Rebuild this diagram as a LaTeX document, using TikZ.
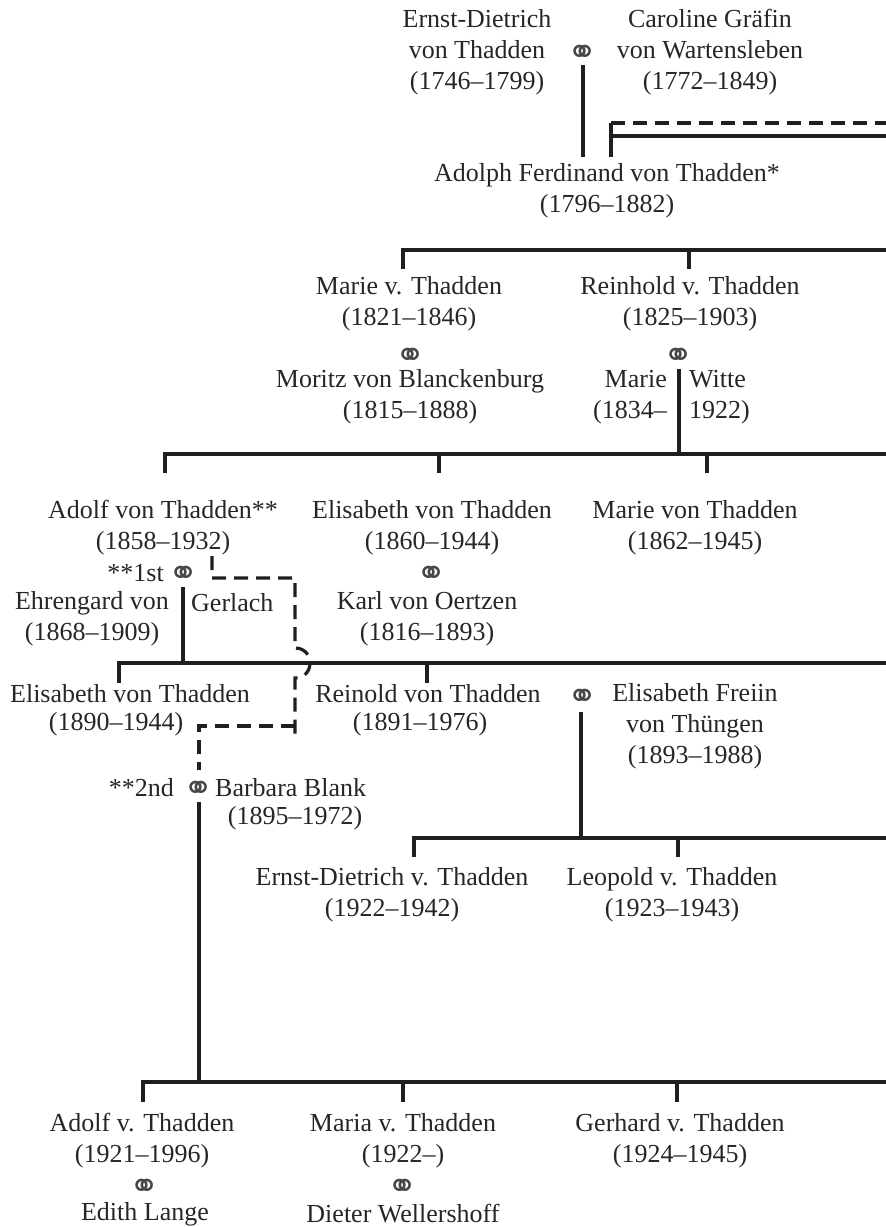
\documentclass[tikz,border=0pt]{standalone}
\usepackage{fontspec}
\setmainfont{Liberation Serif}
\newfontfamily\symfont{DejaVu Sans}
\newcommand\pfont{\fontsize{26}{31}\selectfont}
\newcommand\rings{{\symfont\fontsize{36}{36}\selectfont ⚭}}
\begin{document}
\begin{tikzpicture}[x=1pt,y=-1pt,
  person/.style={font=\pfont, align=center, inner sep=0pt, text=black!85},
  ring/.style={font=\pfont, inner sep=0pt, text=black!72},
  kin/.style={line width=4pt, draw=black!88, line join=miter},
  tick/.style={line width=3.5pt, draw=black!88},
  dline/.style={line width=3.2pt, draw=black!88, dash pattern=on 14pt off 8pt}]
\useasboundingbox (0,0) rectangle (886,1227);

% ---- generation 1
\node[person] (ed) at (477,52) {Ernst-Dietrich\\von Thadden\\(1746–1799)};
\node[ring] (m1) at (583,55) {\rings};
\node[person] (cg) at (710,52) {Caroline Gräfin\\von Wartensleben\\(1772–1849)};
\node[person] (af) at (607,191) {Adolph Ferdinand von Thadden*\\(1796–1882)};

\coordinate (a1) at (583,65);  \coordinate (a2) at (583,157);
\coordinate (b1) at (611,157); \coordinate (b2) at (611,123);
\coordinate (b3) at (886,123); \coordinate (b4) at (611,136); \coordinate (b5) at (886,136);
\draw[kin] (a1) -- (a2);
\draw[kin] (b1) -- (b2);
\draw[kin] (b4) -- (b5);
\draw[dline] (b2) -- (b3);

% ---- generation 3
\coordinate (c1) at (403,269); \coordinate (c2) at (403,250); \coordinate (c3) at (886,250);
\coordinate (c4) at (689,250); \coordinate (c5) at (689,269);
\draw[kin] (c1) -- (c2) -- (c3);
\draw[tick] (c4) -- (c5);

\node[person] (mt) at (409,304) {Marie v. Thadden\\(1821–1846)};
\node[ring] (m2) at (411,358) {\rings};
\node[person] (mb) at (410,397) {Moritz von Blanckenburg\\(1815–1888)};
\node[person] (rt) at (690,304) {Reinhold v. Thadden\\(1825–1903)};
\node[ring] (m3) at (679,358) {\rings};
\node[person, align=right, anchor=east] (mw1) at (667,397) {Marie\\(1834–};
\node[person, align=left, anchor=west] (mw2) at (689,397) {Witte\\1922)};

\coordinate (d1) at (679,369); \coordinate (d2) at (679,454);
\draw[kin] (d1) -- (d2);

% ---- generation 4
\coordinate (e1) at (165,473); \coordinate (e2) at (165,454); \coordinate (e3) at (886,454);
\coordinate (e4) at (439,454); \coordinate (e5) at (439,473);
\coordinate (e6) at (707,454); \coordinate (e7) at (707,473);
\draw[kin] (e1) -- (e2) -- (e3);
\draw[tick] (e4) -- (e5);
\draw[tick] (e6) -- (e7);

\node[person] (at) at (163,528) {Adolf von Thadden**\\(1858–1932)};
\node[person, anchor=east] (first) at (164,573) {**1st};
\node[ring] (m4) at (184,576) {\rings};
\node[person] (eg) at (92,619) {Ehrengard von\\(1868–1909)};
\node[person, anchor=west] (gl) at (191,603) {Gerlach};
\node[person] (et1) at (432,528) {Elisabeth von Thadden\\(1860–1944)};
\node[ring] (m5) at (432,576) {\rings};
\node[person] (ko) at (427,619) {Karl von Oertzen\\(1816–1893)};
\node[person] (mvt) at (695,528) {Marie von Thadden\\(1862–1945)};

\coordinate (f1) at (183,587); \coordinate (f2) at (183,663);
\draw[kin] (f1) -- (f2);

% ---- generation 5
\coordinate (g1) at (119,683); \coordinate (g2) at (119,663); \coordinate (g3) at (886,663);
\coordinate (g4) at (427,663); \coordinate (g5) at (427,683);
\draw[kin] (g1) -- (g2) -- (g3);
\draw[tick] (g4) -- (g5);

\node[person] (et2) at (130,694) {Elisabeth von Thadden};
\node[person] (et2d) at (116,724) {(1890–1944)};
\node[person] (rv) at (428,694) {Reinold von Thadden};
\node[person] (rvd) at (420,724) {(1891–1976)};
\node[ring] (m6) at (583,699) {\rings};
\node[person] (ef) at (695,726) {Elisabeth Freiin\\von Thüngen\\(1893–1988)};

% dashed links of the second marriage
\coordinate (h1) at (212,556); \coordinate (h2) at (212,578); \coordinate (h3) at (295,578);
\coordinate (h4) at (295,648); \coordinate (h5) at (295,678); \coordinate (h6) at (295,738);
\draw[dline] (h1) -- (h2) -- (h3) -- (h4) .. controls (315,648) and (315,678) .. (h5) -- (h6);
\coordinate (i1) at (295,726); \coordinate (i2) at (199,726); \coordinate (i3) at (199,770);
\draw[dline] (i1) -- (i2) -- (i3);

\node[person, anchor=east] (second) at (174,788) {**2nd};
\node[ring] (m7) at (199,791) {\rings};
\node[person, anchor=west] (bb) at (215,788) {Barbara Blank};
\node[person] (bbd) at (295,818) {(1895–1972)};

% ---- generation 6 (Reinold)
\coordinate (j1) at (581,712); \coordinate (j2) at (581,838);
\draw[kin] (j1) -- (j2);
\coordinate (k1) at (414,857); \coordinate (k2) at (414,838); \coordinate (k3) at (886,838);
\coordinate (k4) at (678,838); \coordinate (k5) at (678,857);
\draw[kin] (k1) -- (k2) -- (k3);
\draw[tick] (k4) -- (k5);

\node[person] (edt) at (392,895) {Ernst-Dietrich v. Thadden\\(1922–1942)};
\node[person] (lt) at (672,895) {Leopold v. Thadden\\(1923–1943)};

% ---- generation 6 (Adolf)
\coordinate (l1) at (199,802); \coordinate (l2) at (199,1082);
\draw[kin] (l1) -- (l2);
\coordinate (n1) at (143,1102); \coordinate (n2) at (143,1082); \coordinate (n3) at (886,1082);
\coordinate (n4) at (403,1082); \coordinate (n5) at (403,1102);
\coordinate (n6) at (677,1082); \coordinate (n7) at (677,1102);
\draw[kin] (n1) -- (n2) -- (n3);
\draw[tick] (n4) -- (n5);
\draw[tick] (n6) -- (n7);

\node[person] (adt) at (142,1141) {Adolf v. Thadden\\(1921–1996)};
\node[ring] (m8) at (145,1189) {\rings};
\node[person] (el) at (145,1214) {Edith Lange};
\node[person] (mat) at (403,1141) {Maria v. Thadden\\(1922–)};
\node[ring] (m9) at (403,1189) {\rings};
\node[person] (dw) at (403,1214) {Dieter Wellershoff};
\node[person] (gt) at (680,1141) {Gerhard v. Thadden\\(1924–1945)};
\end{tikzpicture}
\end{document}
